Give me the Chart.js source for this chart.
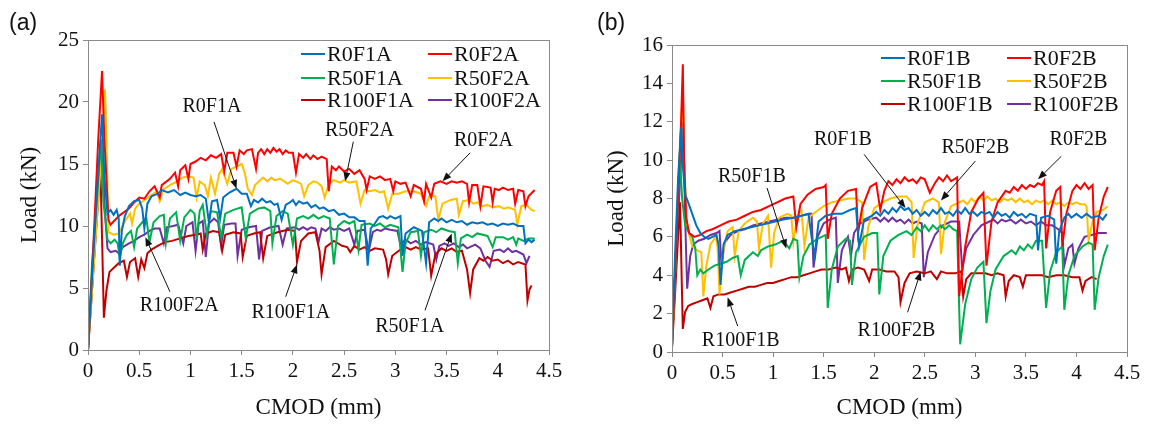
<!DOCTYPE html>
<html>
<head>
<meta charset="utf-8">
<script src="https://cdn.jsdelivr.net/npm/chart.js@4.4.1/dist/chart.umd.min.js"></script>
<style>
  body { margin: 0; background: #fff; }
  #wrap { position: relative; width: 1153px; height: 425px; }
  canvas { position: absolute; top: 0; }
</style>
</head>
<body>
<div id="wrap">
  <canvas id="chartA" width="580" height="425" style="left:0px"></canvas>
  <canvas id="chartB" width="573" height="425" style="left:580px"></canvas>
</div>
<script>
// ---- data: [CMOD (mm), Load (kN)] ----
const namesA = ['R0F1A', 'R0F2A', 'R50F1A', 'R50F2A', 'R100F1A', 'R100F2A'];
const namesB = ['R0F1B', 'R0F2B', 'R50F1B', 'R50F2B', 'R100F1B', 'R100F2B'];
const colors = ['#0070C0', '#FF0000', '#00B050', '#FFC000', '#C00000', '#7030A0'];

const xTicks = [0, 0.5, 1, 1.5, 2, 2.5, 3, 3.5, 4, 4.5];
const yTicksA = [0, 5, 10, 15, 20, 25];
const yTicksB = [0, 2, 4, 6, 8, 10, 12, 14, 16];

const r0f1a = [[0,0],[0.04,6],[0.09,13],[0.137,19],[0.16,14],[0.19,11.0],[0.22,11.3],[0.25,10.9],[0.28,11.3],[0.3,10.6],[0.31,6.8],[0.33,9.6],[0.36,10.8],[0.4,11.6],[0.45,12.0],[0.5,12.1],[0.53,11.4],[0.55,9.8],[0.58,11.8],[0.62,12.4],[0.68,12.6],[0.72,12.9],[0.78,12.7],[0.84,12.9],[0.9,12.5],[0.95,12.7],[1.0,12.5],[1.05,12.4],[1.1,12.5],[1.15,12.2],[1.18,10.3],[1.21,12.0],[1.26,12.1],[1.29,10.6],[1.32,12.3],[1.38,12.7],[1.45,13.0],[1.5,12.6],[1.55,12.6],[1.59,11.6],[1.62,12.1],[1.66,11.9],[1.7,12.2],[1.74,11.9],[1.78,12.0],[1.82,11.7],[1.85,11.8],[1.89,10.5],[1.93,11.7],[1.97,11.9],[2.0,12.1],[2.03,11.7],[2.06,12.0],[2.1,11.8],[2.14,11.9],[2.18,11.5],[2.22,11.7],[2.26,11.4],[2.3,11.5],[2.35,11.2],[2.4,11.3],[2.45,10.9],[2.5,11.0],[2.55,10.7],[2.6,10.7],[2.65,10.4],[2.7,10.4],[2.73,6.8],[2.76,9.8],[2.8,10.2],[2.84,10.7],[2.88,10.8],[2.92,10.6],[2.95,10.8],[3.0,10.6],[3.05,10.8],[3.07,7.6],[3.1,9.4],[3.18,9.9],[3.26,9.6],[3.3,7.0],[3.33,10.3],[3.38,10.6],[3.42,10.4],[3.45,10.6],[3.5,10.3],[3.55,10.5],[3.6,10.3],[3.65,10.4],[3.7,10.1],[3.75,10.3],[3.8,10.2],[3.85,10.3],[3.9,10.1],[3.95,10.2],[4.0,10.0],[4.05,10.2],[4.1,10.1],[4.15,10.2],[4.2,10.0],[4.25,10.0],[4.27,8.6],[4.3,8.9],[4.33,8.7],[4.36,8.9]];
const r0f2a = [[0,0],[0.05,8],[0.1,17],[0.137,22.5],[0.16,17],[0.2,10.5],[0.22,10.1],[0.3,10.8],[0.4,11.4],[0.45,11.9],[0.5,12.3],[0.55,12.2],[0.6,12.8],[0.65,13.2],[0.7,12.3],[0.72,13.3],[0.8,13.8],[0.85,14.3],[0.88,13.2],[0.9,14.5],[0.95,14.9],[0.98,13.8],[1.0,15.0],[1.05,15.2],[1.1,15.5],[1.15,15.3],[1.2,15.7],[1.25,15.5],[1.3,15.8],[1.33,14.4],[1.36,15.9],[1.42,15.9],[1.45,14.8],[1.48,16.1],[1.52,15.8],[1.55,16.1],[1.6,16.2],[1.64,14.6],[1.66,15.9],[1.69,16.2],[1.72,15.8],[1.75,16.2],[1.78,15.9],[1.81,16.3],[1.84,16.0],[1.87,16.2],[1.9,15.8],[1.93,16.1],[1.96,15.9],[2.0,15.9],[2.03,14.3],[2.06,15.8],[2.1,15.5],[2.13,15.8],[2.17,15.4],[2.2,15.7],[2.24,15.4],[2.28,15.6],[2.33,15.4],[2.35,12.8],[2.38,14.8],[2.42,14.5],[2.45,14.8],[2.5,14.4],[2.55,14.6],[2.6,14.2],[2.65,14.5],[2.7,13.8],[2.72,12.9],[2.75,14.0],[2.8,13.8],[2.85,14.0],[2.9,13.7],[2.95,13.8],[2.98,12.8],[3.0,13.6],[3.05,13.4],[3.1,13.5],[3.15,12.4],[3.18,13.3],[3.25,13.0],[3.28,12.0],[3.3,13.4],[3.35,12.3],[3.38,13.4],[3.44,13.6],[3.5,13.4],[3.55,13.6],[3.6,13.5],[3.65,13.6],[3.7,13.4],[3.72,11.9],[3.75,13.3],[3.8,13.3],[3.83,11.6],[3.86,13.2],[3.93,13.1],[3.95,11.9],[3.97,13.0],[4.01,12.9],[4.05,13.1],[4.1,12.9],[4.15,13.0],[4.17,11.8],[4.2,12.9],[4.25,12.8],[4.27,11.6],[4.3,12.4],[4.36,12.9]];
const r50f1a = [[0,0],[0.04,7],[0.09,12.5],[0.126,17],[0.15,12],[0.19,8.9],[0.22,8.6],[0.26,8.9],[0.29,8.6],[0.31,7.4],[0.34,8.6],[0.38,9.3],[0.42,9.6],[0.45,8.3],[0.48,9.8],[0.53,10.3],[0.57,10.6],[0.6,8.7],[0.64,10.3],[0.7,10.8],[0.74,10.9],[0.76,8.6],[0.8,10.6],[0.86,11.1],[0.9,8.8],[0.94,10.7],[1.0,11.3],[1.04,11.0],[1.06,8.9],[1.09,11.2],[1.12,11.7],[1.16,9.3],[1.2,11.2],[1.26,11.1],[1.3,9.1],[1.34,11.0],[1.42,11.3],[1.5,11.5],[1.54,9.0],[1.58,11.0],[1.66,11.4],[1.72,11.5],[1.78,11.2],[1.8,8.6],[1.84,10.8],[1.9,11.2],[1.95,11.0],[2.0,8.5],[2.04,10.6],[2.1,10.8],[2.15,10.6],[2.2,10.9],[2.25,10.6],[2.3,10.8],[2.36,10.6],[2.4,6.9],[2.44,10.0],[2.5,10.4],[2.55,10.2],[2.6,10.4],[2.64,8.1],[2.67,10.1],[2.75,10.2],[2.8,10.0],[2.85,10.2],[2.9,9.9],[2.95,10.1],[3.03,9.9],[3.07,6.3],[3.1,8.6],[3.15,9.5],[3.22,9.6],[3.25,7.6],[3.28,9.5],[3.35,9.7],[3.4,9.5],[3.45,9.8],[3.52,9.6],[3.58,9.5],[3.61,7.0],[3.64,9.0],[3.7,9.3],[3.75,9.1],[3.8,9.4],[3.9,9.2],[3.95,8.3],[3.98,9.1],[4.05,9.1],[4.1,8.9],[4.15,9.1],[4.18,8.5],[4.2,9.0],[4.25,8.8],[4.3,9.0],[4.36,9.0]];
const r50f2a = [[0,0],[0.05,6],[0.1,12],[0.14,17],[0.166,21],[0.18,17],[0.2,9.5],[0.25,9.3],[0.3,9.4],[0.33,9.9],[0.37,10.5],[0.41,11.0],[0.43,10.2],[0.46,11.4],[0.5,11.8],[0.57,12.2],[0.62,12.5],[0.67,12.8],[0.7,12.0],[0.73,12.9],[0.8,13.3],[0.87,13.6],[0.92,13.9],[0.98,14.0],[1.03,13.9],[1.06,12.3],[1.09,13.6],[1.14,13.3],[1.17,12.4],[1.2,13.9],[1.24,12.6],[1.28,14.2],[1.31,14.6],[1.36,13.4],[1.4,14.6],[1.45,14.8],[1.5,15.0],[1.53,14.3],[1.56,13.0],[1.6,12.5],[1.63,13.3],[1.67,13.6],[1.71,13.9],[1.75,13.6],[1.79,13.9],[1.82,13.7],[1.88,13.8],[1.95,13.4],[2.0,13.7],[2.03,13.6],[2.08,13.4],[2.11,12.4],[2.15,13.3],[2.2,13.6],[2.24,13.5],[2.28,13.2],[2.31,12.3],[2.35,13.4],[2.4,13.7],[2.46,13.5],[2.5,13.7],[2.55,13.5],[2.62,13.6],[2.66,11.8],[2.7,12.9],[2.75,12.8],[2.8,12.9],[2.85,12.7],[2.89,12.8],[2.93,11.4],[2.97,12.6],[3.03,12.6],[3.1,12.8],[3.18,12.8],[3.25,12.6],[3.3,11.6],[3.33,12.4],[3.39,12.4],[3.42,10.5],[3.46,11.8],[3.54,12.1],[3.6,12.2],[3.62,10.9],[3.66,12.0],[3.72,12.1],[3.76,11.8],[3.8,11.9],[3.85,11.6],[3.9,11.7],[3.95,11.5],[4.01,11.6],[4.06,11.4],[4.1,11.5],[4.17,11.3],[4.19,10.1],[4.23,11.6],[4.28,11.7],[4.33,11.3],[4.36,11.2]];
const r100f1a = [[0,0],[0.04,5],[0.08,10],[0.12,15],[0.14,8],[0.155,2.6],[0.18,4.8],[0.21,6.3],[0.26,6.7],[0.3,7.0],[0.35,7.2],[0.38,5.9],[0.41,7.1],[0.46,7.4],[0.49,5.9],[0.52,7.3],[0.55,6.6],[0.58,7.8],[0.62,8.1],[0.68,8.4],[0.75,8.7],[0.82,8.8],[0.9,9.0],[0.98,9.2],[1.05,9.3],[1.1,9.4],[1.12,8.1],[1.15,9.4],[1.22,9.6],[1.28,9.5],[1.31,8.0],[1.34,9.3],[1.42,9.5],[1.49,9.4],[1.51,7.5],[1.55,9.2],[1.62,9.4],[1.68,9.5],[1.71,7.4],[1.75,9.2],[1.85,9.5],[1.95,9.7],[2.02,9.6],[2.04,7.1],[2.08,8.8],[2.15,9.4],[2.22,9.5],[2.26,8.0],[2.28,6.1],[2.32,8.3],[2.4,8.8],[2.48,8.4],[2.53,8.3],[2.56,7.9],[2.6,8.4],[2.65,8.1],[2.7,8.3],[2.75,8.0],[2.8,8.2],[2.88,8.1],[2.91,7.3],[2.93,6.1],[2.97,7.6],[3.05,8.1],[3.1,8.3],[3.15,8.1],[3.2,8.3],[3.25,8.1],[3.32,8.2],[3.35,6.0],[3.39,7.7],[3.45,8.2],[3.5,8.0],[3.55,8.2],[3.6,7.9],[3.65,8.0],[3.7,6.5],[3.73,4.6],[3.76,6.5],[3.82,7.4],[3.86,7.2],[3.9,7.5],[3.95,7.2],[4.0,7.3],[4.05,7.0],[4.1,7.2],[4.15,6.9],[4.2,7.1],[4.27,6.9],[4.29,4.0],[4.31,4.9],[4.33,5.2]];
const r100f2a = [[0,0],[0.04,5],[0.09,11],[0.14,17],[0.16,12],[0.19,8.2],[0.22,7.9],[0.27,8.0],[0.3,7.8],[0.34,8.3],[0.4,8.6],[0.45,8.8],[0.5,9.1],[0.55,9.3],[0.6,9.6],[0.65,9.8],[0.7,9.8],[0.74,8.6],[0.77,9.9],[0.83,10.0],[0.88,10.1],[0.93,8.6],[0.96,10.0],[1.02,10.3],[1.05,8.0],[1.08,10.2],[1.12,10.4],[1.15,7.5],[1.18,10.2],[1.23,10.6],[1.27,10.3],[1.3,8.4],[1.33,10.1],[1.4,10.2],[1.44,10.2],[1.46,7.6],[1.5,9.7],[1.57,9.9],[1.64,10.0],[1.67,7.3],[1.7,9.6],[1.78,9.9],[1.86,10.0],[1.9,8.5],[1.94,9.8],[2.02,9.9],[2.06,9.7],[2.1,9.9],[2.14,9.7],[2.18,9.9],[2.22,9.8],[2.25,8.7],[2.28,9.8],[2.32,9.6],[2.36,9.9],[2.4,9.7],[2.45,9.8],[2.5,9.6],[2.55,9.8],[2.6,8.5],[2.63,9.6],[2.7,9.7],[2.74,8.0],[2.78,9.5],[2.82,9.7],[2.86,9.6],[2.9,9.8],[2.95,9.7],[3.02,9.6],[3.05,8.5],[3.1,8.9],[3.15,8.6],[3.2,8.8],[3.25,8.5],[3.3,8.7],[3.37,8.5],[3.4,7.3],[3.43,8.4],[3.48,8.6],[3.52,8.4],[3.57,8.6],[3.62,8.3],[3.66,8.5],[3.7,8.2],[3.78,8.5],[3.83,8.2],[3.88,7.2],[3.92,6.7],[3.96,8.0],[4.02,8.1],[4.06,7.9],[4.1,8.2],[4.14,7.9],[4.18,8.0],[4.25,7.7],[4.28,7.0],[4.31,7.6]];

const r0f1b = [[0,0.5],[0.03,5],[0.06,9],[0.09,11.7],[0.11,9.5],[0.13,8.2],[0.16,7.8],[0.2,7.2],[0.24,6.6],[0.28,6.2],[0.32,6.0],[0.36,5.9],[0.4,6.0],[0.44,6.1],[0.46,5.6],[0.48,3.5],[0.51,5.6],[0.55,6.1],[0.62,6.3],[0.7,6.4],[0.78,6.5],[0.86,6.6],[0.94,6.7],[1.02,6.8],[1.1,6.9],[1.2,7.0],[1.28,7.1],[1.35,7.2],[1.38,6.0],[1.41,5.0],[1.45,6.8],[1.52,7.1],[1.6,7.2],[1.68,7.2],[1.76,7.4],[1.82,7.5],[1.85,5.5],[1.9,6.9],[1.94,7.0],[1.98,7.1],[2.02,7.3],[2.06,7.1],[2.1,7.4],[2.14,7.2],[2.18,7.5],[2.22,7.3],[2.26,7.6],[2.3,7.4],[2.34,7.5],[2.38,7.2],[2.42,7.4],[2.46,7.1],[2.5,7.3],[2.54,7.1],[2.58,7.4],[2.62,7.2],[2.66,7.5],[2.7,7.2],[2.74,7.3],[2.78,7.1],[2.82,7.4],[2.86,7.2],[2.9,7.5],[2.94,7.2],[2.98,7.3],[3.02,7.1],[3.06,7.3],[3.1,7.2],[3.14,7.3],[3.18,7.0],[3.22,7.3],[3.26,7.1],[3.3,7.2],[3.34,7.0],[3.38,7.3],[3.42,7.1],[3.46,7.2],[3.5,7.0],[3.54,7.2],[3.6,7.1],[3.62,5.3],[3.65,7.0],[3.72,7.1],[3.78,6.9],[3.8,4.6],[3.83,6.3],[3.88,7.0],[3.92,7.2],[3.95,7.0],[4.0,7.2],[4.05,7.0],[4.1,7.2],[4.15,7.0],[4.22,7.1],[4.26,6.9],[4.3,7.2]];
const r0f2b = [[0,0.3],[0.03,4],[0.06,8],[0.09,12],[0.107,15],[0.12,10],[0.14,7],[0.17,6.2],[0.22,6.0],[0.28,6.1],[0.34,6.3],[0.4,6.4],[0.48,6.6],[0.56,6.8],[0.64,6.9],[0.72,7.1],[0.8,7.3],[0.88,7.4],[0.96,7.6],[1.04,7.8],[1.12,8.0],[1.2,8.1],[1.23,6.5],[1.27,7.7],[1.34,8.2],[1.42,8.5],[1.5,8.6],[1.52,8.7],[1.54,5.9],[1.58,7.2],[1.66,8.0],[1.74,8.4],[1.82,8.5],[1.84,6.2],[1.88,7.5],[1.96,8.6],[2.02,8.8],[2.06,7.4],[2.1,8.4],[2.14,8.9],[2.18,8.7],[2.22,9.0],[2.26,8.8],[2.3,9.1],[2.34,8.9],[2.38,9.0],[2.42,8.8],[2.46,9.1],[2.5,9.0],[2.55,8.3],[2.6,8.8],[2.64,9.1],[2.68,8.9],[2.72,9.2],[2.76,8.9],[2.82,9.1],[2.84,2.9],[2.9,5.5],[2.96,7.3],[3.03,8.0],[3.08,8.3],[3.11,4.5],[3.16,6.8],[3.22,7.8],[3.3,8.4],[3.34,8.3],[3.38,8.6],[3.42,8.4],[3.46,8.7],[3.5,8.5],[3.54,8.7],[3.58,8.6],[3.62,8.8],[3.66,8.7],[3.68,8.9],[3.7,5.4],[3.74,7.3],[3.8,8.4],[3.84,8.6],[3.86,5.5],[3.9,7.2],[3.96,8.4],[4.0,8.7],[4.04,8.5],[4.08,8.8],[4.12,8.5],[4.16,8.7],[4.18,5.3],[4.22,7.0],[4.27,8.1],[4.31,8.6]];
const r50f1b = [[0,0.3],[0.03,4],[0.06,8],[0.08,10],[0.1,8],[0.13,6.6],[0.17,6.2],[0.2,6.0],[0.23,5.4],[0.25,4.0],[0.28,4.3],[0.31,4.1],[0.36,4.3],[0.42,4.5],[0.48,4.6],[0.54,4.7],[0.6,4.9],[0.65,5.0],[0.68,4.0],[0.72,4.8],[0.8,5.2],[0.85,5.0],[0.88,5.3],[0.95,5.5],[1.02,5.6],[1.1,5.8],[1.16,5.4],[1.2,5.9],[1.24,5.8],[1.26,3.9],[1.3,5.0],[1.36,5.6],[1.44,5.9],[1.52,6.1],[1.54,2.3],[1.58,4.3],[1.64,5.5],[1.72,5.9],[1.76,5.8],[1.78,3.5],[1.82,5.2],[1.9,6.0],[1.98,6.2],[2.03,6.2],[2.05,3.0],[2.09,5.0],[2.16,5.8],[2.24,6.1],[2.32,6.3],[2.37,6.1],[2.42,6.5],[2.46,6.3],[2.5,6.6],[2.54,6.3],[2.58,6.6],[2.62,6.4],[2.66,6.6],[2.7,6.4],[2.74,6.6],[2.78,6.4],[2.82,6.3],[2.85,0.4],[2.9,2.5],[2.96,3.8],[3.02,4.4],[3.08,4.7],[3.11,1.5],[3.15,3.2],[3.2,4.3],[3.28,5.0],[3.36,5.3],[3.4,5.1],[3.44,5.5],[3.48,5.3],[3.52,5.6],[3.56,5.4],[3.6,5.8],[3.66,5.8],[3.7,2.3],[3.74,4.2],[3.8,5.2],[3.86,5.5],[3.88,2.2],[3.92,4.0],[3.98,5.0],[4.06,5.5],[4.12,5.7],[4.16,5.6],[4.18,2.2],[4.22,3.9],[4.27,5.0],[4.31,5.6]];
const r50f2b = [[0,0.3],[0.03,4],[0.06,8.5],[0.09,12],[0.107,13.6],[0.12,10],[0.15,6.5],[0.2,5.5],[0.25,5.3],[0.29,5.2],[0.31,2.9],[0.34,4.5],[0.38,5.6],[0.43,6.0],[0.45,5.5],[0.47,3.0],[0.5,5.0],[0.55,6.3],[0.6,6.5],[0.62,5.0],[0.66,6.3],[0.72,6.7],[0.8,7.0],[0.84,6.8],[0.86,5.4],[0.9,6.7],[0.95,7.1],[0.98,4.4],[1.01,6.2],[1.06,7.0],[1.14,7.2],[1.18,7.1],[1.2,5.7],[1.24,7.1],[1.28,7.4],[1.31,5.5],[1.35,7.0],[1.42,7.3],[1.5,7.6],[1.58,7.8],[1.66,7.9],[1.74,8.0],[1.82,8.0],[1.88,7.8],[1.9,4.8],[1.94,6.5],[2.0,7.5],[2.08,7.8],[2.16,8.0],[2.24,8.1],[2.32,8.1],[2.37,7.8],[2.39,4.9],[2.43,6.7],[2.5,7.8],[2.58,8.0],[2.64,7.8],[2.66,5.1],[2.7,6.8],[2.76,7.6],[2.84,7.8],[2.88,7.9],[2.92,7.7],[2.96,8.0],[3.0,7.8],[3.04,8.1],[3.08,7.9],[3.12,8.1],[3.16,7.9],[3.2,8.0],[3.24,7.8],[3.28,8.0],[3.32,7.9],[3.36,8.0],[3.4,7.8],[3.44,8.0],[3.48,7.8],[3.52,7.9],[3.56,7.7],[3.6,7.9],[3.64,7.8],[3.68,7.9],[3.72,7.7],[3.76,7.9],[3.8,7.7],[3.84,7.8],[3.88,7.6],[3.92,7.8],[3.96,7.7],[4.0,7.8],[4.04,7.7],[4.08,7.7],[4.1,7.6],[4.12,5.8],[4.16,6.8],[4.2,7.3],[4.26,7.4],[4.31,7.6]];
const r100f1b = [[0,0.2],[0.03,3],[0.06,6],[0.08,7.8],[0.095,4],[0.107,1.2],[0.13,2.1],[0.16,2.4],[0.2,2.5],[0.25,2.6],[0.3,2.7],[0.35,2.8],[0.38,2.3],[0.41,2.9],[0.46,3.0],[0.52,3.0],[0.58,3.1],[0.64,3.2],[0.7,3.3],[0.76,3.4],[0.82,3.4],[0.88,3.5],[0.94,3.6],[1.0,3.6],[1.06,3.7],[1.12,3.8],[1.18,3.9],[1.24,3.9],[1.3,4.0],[1.36,4.1],[1.42,4.2],[1.48,4.3],[1.55,4.3],[1.62,4.4],[1.68,4.3],[1.72,4.4],[1.75,3.7],[1.78,4.3],[1.84,4.4],[1.9,4.3],[1.95,3.7],[1.98,4.3],[2.05,4.3],[2.12,4.2],[2.2,4.2],[2.24,3.9],[2.26,2.6],[2.3,3.6],[2.35,4.1],[2.42,4.2],[2.5,4.1],[2.56,4.2],[2.62,3.8],[2.66,4.2],[2.72,4.1],[2.8,4.1],[2.86,4.2],[2.88,2.9],[2.91,3.8],[2.96,4.1],[3.02,4.1],[3.1,4.1],[3.16,4.0],[3.22,4.1],[3.28,4.0],[3.3,2.9],[3.33,3.7],[3.38,4.0],[3.44,3.9],[3.47,3.4],[3.5,4.0],[3.58,4.0],[3.66,4.0],[3.72,3.9],[3.8,4.0],[3.88,4.0],[3.96,3.9],[4.03,3.9],[4.06,3.2],[4.09,3.7],[4.15,3.9],[4.2,3.8]];
const r100f2b = [[0,0.3],[0.03,4],[0.06,7],[0.09,10],[0.11,12],[0.13,7],[0.15,3.3],[0.18,5.0],[0.21,5.6],[0.26,5.8],[0.32,5.9],[0.38,6.1],[0.44,6.2],[0.47,6.3],[0.49,4.5],[0.52,5.7],[0.58,6.1],[0.65,6.3],[0.72,6.4],[0.8,6.6],[0.88,6.7],[0.96,6.8],[1.04,6.9],[1.12,7.0],[1.2,7.0],[1.28,7.1],[1.36,7.2],[1.38,7.2],[1.4,4.4],[1.44,6.0],[1.5,6.7],[1.56,6.9],[1.62,7.0],[1.64,3.6],[1.68,5.3],[1.74,6.0],[1.77,5.0],[1.8,6.2],[1.86,6.7],[1.94,6.9],[2.02,7.0],[2.06,6.8],[2.1,7.0],[2.14,6.8],[2.18,7.0],[2.22,6.8],[2.26,6.9],[2.3,6.7],[2.34,6.9],[2.38,6.7],[2.42,6.8],[2.47,6.7],[2.49,3.9],[2.53,5.2],[2.6,6.1],[2.68,6.6],[2.76,6.8],[2.84,6.8],[2.87,4.3],[2.91,5.4],[2.98,6.1],[3.06,6.6],[3.14,6.8],[3.18,6.9],[3.22,6.7],[3.26,6.9],[3.3,6.8],[3.35,6.9],[3.4,6.7],[3.45,6.9],[3.5,6.7],[3.55,6.8],[3.6,6.6],[3.65,6.8],[3.7,6.6],[3.76,6.6],[3.82,6.4],[3.86,6.2],[3.88,4.5],[3.92,5.4],[3.96,5.6],[3.98,4.6],[4.02,5.4],[4.08,6.0],[4.15,6.1],[4.22,6.2],[4.3,6.2]];

// callouts: label, text position, arrow tail, arrow head (data units)
const notesA = [
  { label: 'R0F1A',   text: [1.21, 19.6], from: [1.23, 18.4], to: [1.45, 13.0] },
  { label: 'R50F2A',  text: [2.65, 17.7], from: [2.59, 16.8], to: [2.51, 13.6] },
  { label: 'R0F2A',   text: [3.86, 16.9], from: [3.73, 15.9], to: [3.46, 13.6] },
  { label: 'R100F2A', text: [0.89, 3.6],  from: [0.80, 4.7],  to: [0.56, 9.1] },
  { label: 'R100F1A', text: [1.98, 3.0],  from: [1.93, 4.3],  to: [2.04, 6.9] },
  { label: 'R50F1A',  text: [3.14, 1.9],  from: [3.29, 3.2],  to: [3.55, 9.4] }
];
const notesB = [
  { label: 'R0F1B',   text: [1.69, 11.05], from: [1.90, 10.3], to: [2.31, 7.5] },
  { label: 'R50F2B',  text: [3.0, 10.66],  from: [3.0, 9.95],  to: [2.66, 7.9] },
  { label: 'R0F2B',   text: [4.02, 11.05], from: [3.85, 10.2], to: [3.62, 9.0] },
  { label: 'R50F1B',  text: [0.79, 9.15],  from: [0.94, 8.55], to: [1.13, 5.4] },
  { label: 'R100F1B', text: [0.68, 0.6],   from: [0.65, 1.35], to: [0.55, 2.85] },
  { label: 'R100F2B', text: [2.22, 1.12],  from: [2.33, 2.07], to: [2.46, 4.2] }
];

const serif = '"Liberation Serif", "Times New Roman", serif';

function arrow(ctx, x1, y1, x2, y2) {
  const a = Math.atan2(y2 - y1, x2 - x1);
  const len = 9, w = 3.5;
  const bx = x2 - len * Math.cos(a), by = y2 - len * Math.sin(a);
  ctx.beginPath();
  ctx.moveTo(x1, y1);
  ctx.lineTo(bx, by);
  ctx.stroke();
  ctx.beginPath();
  ctx.moveTo(x2, y2);
  ctx.lineTo(bx + w * Math.sin(a), by - w * Math.cos(a));
  ctx.lineTo(bx - w * Math.sin(a), by + w * Math.cos(a));
  ctx.closePath();
  ctx.fill();
}

const decor = {
  id: 'decor',
  afterDatasetsDraw(chart, args, o) {
    const ctx = chart.ctx, area = chart.chartArea;
    const xs = chart.scales.x, ys = chart.scales.y;
    ctx.save();
    // frame around plot
    ctx.strokeStyle = '#8a8a8a';
    ctx.lineWidth = 1;
    ctx.strokeRect(Math.round(area.left) + 0.5, Math.round(area.top) + 0.5,
      Math.round(area.right - area.left), Math.round(area.bottom - area.top));

    // legend inside the plot
    ctx.font = '22px ' + serif;
    ctx.textBaseline = 'middle';
    ctx.textAlign = 'left';
    chart.data.datasets.forEach((ds, i) => {
      const row = Math.floor(i / 2), col = i % 2;
      const y = area.top + o.legendRows[row];
      const x0 = area.left + o.legendCols[col];
      ctx.strokeStyle = ds.borderColor;
      ctx.lineWidth = 2;
      ctx.beginPath();
      ctx.moveTo(x0, y);
      ctx.lineTo(x0 + 24, y);
      ctx.stroke();
      ctx.fillStyle = '#111';
      ctx.fillText(ds.label, x0 + 26, y + 1);
    });

    // callouts
    ctx.font = '20px ' + serif;
    ctx.textAlign = 'center';
    ctx.strokeStyle = '#111';
    ctx.fillStyle = '#111';
    ctx.lineWidth = 1;
    o.notes.forEach(n => {
      ctx.fillText(n.label, xs.getPixelForValue(n.text[0]), ys.getPixelForValue(n.text[1]));
      arrow(ctx,
        xs.getPixelForValue(n.from[0]), ys.getPixelForValue(n.from[1]),
        xs.getPixelForValue(n.to[0]), ys.getPixelForValue(n.to[1]));
    });

    // panel tag
    ctx.font = '23px "Liberation Sans", Arial, sans-serif';
    ctx.textAlign = 'left';
    ctx.textBaseline = 'top';
    ctx.fillText(o.tag, o.tagX, 12);
    ctx.restore();
  }
};

function makePanel(id, names, series, yTicks, box, notes, tag, tagX, yTitlePad) {
  const canvas = document.getElementById(id);
  return new Chart(canvas, {
    type: 'line',
    data: {
      datasets: series.map((s, i) => ({
        label: names[i],
        data: s.map(p => ({ x: p[0], y: p[1] })),
        borderColor: colors[i],
        borderWidth: 2,
        pointRadius: 0,
        tension: 0,
        fill: false
      }))
    },
    options: {
      responsive: false,
      animation: false,
      layout: { padding: { left: 0, top: box.top, right: canvas.width - box.right, bottom: 0 } },
      plugins: {
        legend: { display: false },
        tooltip: { enabled: false },
        decor: { legendRows: box.legendRows, legendCols: box.legendCols, notes: notes, tag: tag, tagX: tagX }
      },
      scales: {
        x: {
          type: 'linear',
          min: xTicks[0],
          max: xTicks[xTicks.length - 1],
          afterBuildTicks: sc => { sc.ticks = xTicks.map(v => ({ value: v })); },
          afterFit: sc => { sc.height = canvas.height - box.bottom; },
          ticks: { font: { family: serif, size: 21 }, color: '#111', padding: 4, maxRotation: 0, callback: v => String(v) },
          grid: { drawOnChartArea: false, tickLength: 5, color: '#8a8a8a' },
          border: { color: '#8a8a8a' },
          title: { display: true, text: 'CMOD (mm)', font: { family: serif, size: 23 }, color: '#111', padding: { top: 0, bottom: 3 } }
        },
        y: {
          min: yTicks[0],
          max: yTicks[yTicks.length - 1],
          afterBuildTicks: sc => { sc.ticks = yTicks.map(v => ({ value: v })); },
          afterFit: sc => { sc.width = box.left; },
          ticks: { font: { family: serif, size: 21 }, color: '#111', padding: 4, callback: v => String(v) },
          grid: { drawOnChartArea: false, tickLength: 5, color: '#8a8a8a' },
          border: { color: '#8a8a8a' },
          title: { display: true, text: 'Load (kN)', font: { family: serif, size: 23 }, color: '#111', padding: { top: yTitlePad, bottom: 0 } }
        }
      }
    },
    plugins: [decor]
  });
}

makePanel('chartA', namesA, [r0f1a, r0f2a, r50f1a, r50f2a, r100f1a, r100f2a], yTicksA,
  { left: 88, right: 549, top: 40, bottom: 350, legendRows: [14, 38, 60], legendCols: [213, 340] },
  notesA, '(a)', 9, 16);

makePanel('chartB', namesB, [r0f1b, r0f2b, r50f1b, r50f2b, r100f1b, r100f2b], yTicksB,
  { left: 92, right: 547, top: 45, bottom: 352, legendRows: [13, 36, 59], legendCols: [209, 335] },
  notesB, '(b)', 17, 23);
</script>
</body>
</html>
